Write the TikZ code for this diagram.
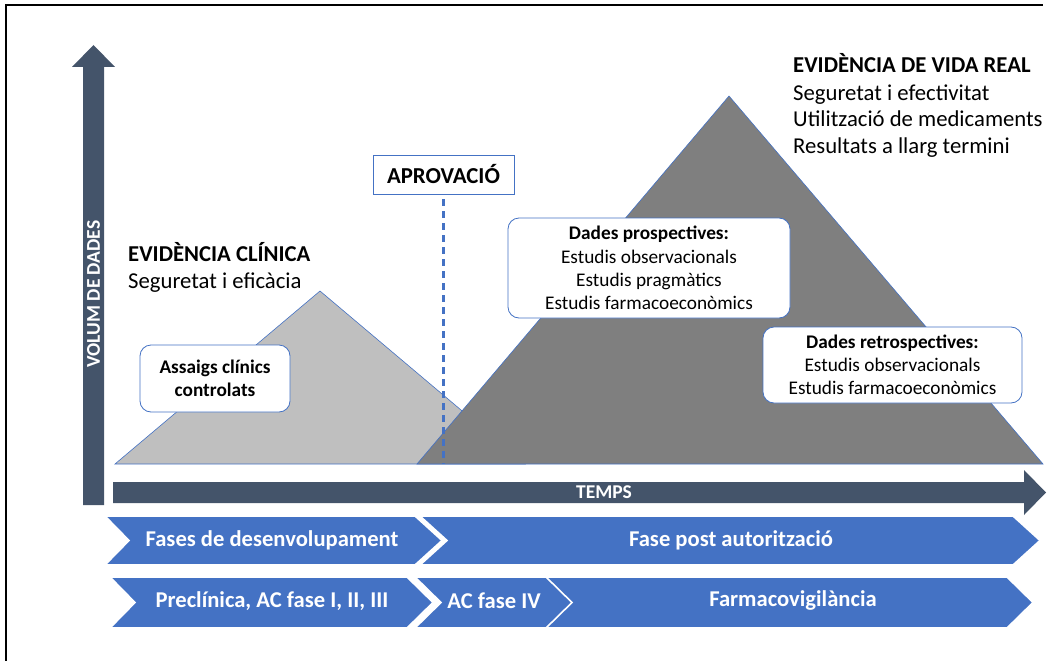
\documentclass[tikz,border=0pt]{standalone}
\usepackage{fontspec}
\setmainfont{Carlito}

\definecolor{slate}{HTML}{44546A}
\definecolor{accent}{HTML}{4472C4}
\definecolor{lightgrey}{HTML}{BFBFBF}
\definecolor{midgrey}{HTML}{7F7F7F}

\begin{document}
\begin{tikzpicture}[x=1pt,y=-1pt,
  heading/.style={anchor=base west, inner sep=0pt, font=\fontsize{22.7}{27}\selectfont\bfseries},
  plain/.style={anchor=base west, inner sep=0pt, font=\fontsize{22.7}{27}\selectfont},
  infobox/.style={draw=accent, line width=0.8pt, fill=white, rounded corners=11pt,
    align=center, inner sep=0pt, font=\fontsize{19.3}{23.2}\selectfont},
  hillA/.style={fill=lightgrey, draw=accent, line width=0.6pt, line join=miter},
  hillB/.style={fill=midgrey, draw=accent, line width=0.6pt, line join=miter},
  axisarrow/.style={fill=slate},
  axislabel/.style={text=white, inner sep=0pt, font=\fontsize{19.5}{22}\selectfont\bfseries},
  chev/.style={fill=accent, draw=white, line width=1.6pt, line join=miter},
  chevtext/.style={text=white, inner sep=0pt, font=\fontsize{22.6}{26}\selectfont\bfseries}]

\useasboundingbox (0,0) rectangle (1050,661);

% outer frame (left and top edges)
\draw[line width=1.6pt] (6,661) -- (6,5) -- (1043,5);

% data volume hills
\draw[hillA] (115,464) -- (320,291) -- (525,464) -- cycle;
\draw[hillB] (417,464) -- (729,96) -- (1043,464) -- cycle;

% approval marker
\node[draw=accent, line width=0.8pt, fill=white, minimum width=141pt, minimum height=39pt,
      inner sep=0pt, font=\fontsize{22.8}{27}\selectfont\bfseries] (aprov) at (443.5,174.5) {APROVACIÓ};
\coordinate (aprovbase) at (443.5,464);
\draw[draw=accent, line width=2.2pt, dash pattern=on 7pt off 5pt] (aprov.south) ++(0,5) -- (aprovbase);

% clinical evidence heading
\node[heading] (clin) at (128,261) {EVIDÈNCIA CLÍNICA};
\node[plain] (clinsub) at (128,288) {Seguretat i eficàcia};

% real world evidence heading
\node[heading] (rwe) at (793,73) {EVIDÈNCIA DE VIDA REAL};
\node[plain] (rwe1) at (793,100) {Seguretat i efectivitat};
\node[plain] (rwe2) at (793,126.5) {Utilització de medicaments};
\node[plain] (rwe3) at (793,153) {Resultats a llarg termini};

% study boxes
\node[infobox, minimum width=150pt, minimum height=67pt] (trials) at (215,378.5)
  {\bfseries Assaigs clínics\\\bfseries controlats};
\node[infobox, minimum width=282pt, minimum height=100pt] (prosp) at (649,268)
  {\bfseries Dades prospectives:\\Estudis observacionals\\Estudis pragmàtics\\Estudis farmacoeconòmics};
\node[infobox, minimum width=259pt, minimum height=76pt] (retro) at (892.5,365)
  {\bfseries Dades retrospectives:\\Estudis observacionals\\Estudis farmacoeconòmics};

% vertical axis arrow
\fill[axisarrow] (83,505) -- (83,67) -- (72,67) -- (93.5,45) -- (115,67) -- (104,67) -- (104,505) -- cycle;
\node[axislabel, rotate=90] (vol) at (93.5,294) {VOLUM DE DADES};

% horizontal axis arrow
\fill[axisarrow] (113,482) -- (1024,482) -- (1024,470) -- (1046,492.5) -- (1024,515) -- (1024,503) -- (113,503) -- cycle;
\node[axislabel] (temps) at (604,492.5) {TEMPS};

% phase chevrons, first row
\draw[chev] (105,516) -- (415,516) -- (442,540.5) -- (415,565) -- (105,565) -- (129,540.5) -- cycle;
\draw[chev] (420,516) -- (1013,516) -- (1040,540.5) -- (1013,565) -- (420,565) -- (447,540.5) -- cycle;
\node[chevtext] (dev) at (272,540) {Fases de desenvolupament};
\node[chevtext] (post) at (731,540) {Fase post autorització};

% phase chevrons, second row
\draw[chev] (110,577) -- (407,577) -- (433,602.5) -- (407,628) -- (110,628) -- (135,602.5) -- cycle;
\draw[chev] (415,577) -- (549,577) -- (575,602.5) -- (549,628) -- (415,628) -- (441,602.5) -- cycle;
\draw[chev] (546,577) -- (1007,577) -- (1033,602.5) -- (1007,628) -- (546,628) -- (572,602.5) -- cycle;
\node[chevtext] (precl) at (272,601) {Preclínica, AC fase I, II, III};
\node[chevtext] (ac4) at (494,601) {AC fase IV};
\node[chevtext] (fv) at (793,600) {Farmacovigilància};

\end{tikzpicture}
\end{document}
